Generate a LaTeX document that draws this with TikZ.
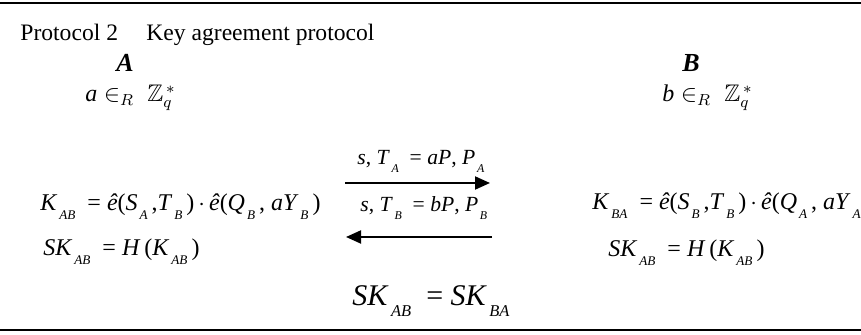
\documentclass[tikz,border=0pt]{standalone}
\usepackage{amsmath, amssymb}
\usepackage{fontspec}
\setmainfont{Liberation Serif}
\usepackage{tikz}
\usetikzlibrary{arrows.meta, positioning}
\newcommand{\iv}[1]{\textit{#1}}
\newcommand{\isub}[1]{\kern0.08em\raisebox{-0.34em}{\scalebox{0.55}{\textit{#1}}}}
\tikzset{
  ttl/.style={font=\fontsize{11.8}{13}\selectfont, inner sep=0pt, anchor=base west},
  party/.style={font=\fontsize{13}{14}\selectfont\bfseries\itshape, inner sep=0pt, anchor=base},
  eqn/.style={font=\fontsize{12}{13}\selectfont, inner sep=0pt, anchor=base west},
  msg/.style={font=\fontsize{10.8}{12}\selectfont, inner sep=0pt, anchor=base west},
  bigeqn/.style={font=\fontsize{15}{17}\selectfont, inner sep=0pt, anchor=base west},
  msgarr/.style={-{Triangle[length=7.5pt,width=6.5pt]}, line width=1pt},
  rulel/.style={line width=1.1pt},
}

\begin{document}
\begin{tikzpicture}[x=0.5pt, y=-0.5pt]

  \useasboundingbox (0,0) rectangle (861,335);

  %% frame rules
  \coordinate (tl) at (0,3);
  \coordinate (tr) at (861,3);
  \coordinate (bl) at (0,330);
  \coordinate (br) at (861,330);
  \draw[rulel] (tl) -- (tr);
  \draw[rulel] (bl) -- (br);

  %% caption
  \node[ttl] (cap) at (20,41) {Protocol 2\hspace{1.2em}Key agreement protocol};

  %% parties
  \node[party] (pa) at (125,72) {A};
  \node[party] (pb) at (691,72) {B};
  \node[eqn] (ra) at (85,102) {\iv{a}$\;\in_{R}\;\mathbb{Z}_{q}^{\,*}$};
  \node[eqn] (rb) at (662,102) {\iv{b}$\;\in_{R}\;\mathbb{Z}_{q}^{\,*}$};

  %% messages
  \coordinate (m1s) at (345,183);
  \coordinate (m1e) at (490,183);
  \coordinate (m2s) at (492,237);
  \coordinate (m2e) at (346,237);
  \draw[msgarr] (m1s) -- (m1e);
  \draw[msgarr] (m2s) -- (m2e);
  \node[msg] (l1) at (357,165) {\iv{s}, \iv{T}\isub{A} \ = \iv{aP}, \iv{P}\isub{A}};
  \node[msg] (l2) at (360,212) {\iv{s}, \iv{T}\isub{B} \ = \iv{bP}, \iv{P}\isub{B}};

  %% key computation
  \node[eqn] (ka) at (40,211)
    {\iv{K}\isub{AB} \ = \iv{ê}(\iv{S}\isub{A}\,,\iv{T}\isub{B}\,)$\,\cdot\,$\iv{ê}(\iv{Q}\isub{B}\,, \iv{aY}\isub{B}\,)};
  \node[eqn] (ska) at (43,256) {\iv{SK}\isub{AB} \ = \iv{H}\,(\iv{K}\isub{AB}\,)};
  \node[eqn] (kb) at (592,210)
    {\iv{K}\isub{BA} \ = \iv{ê}(\iv{S}\isub{B}\,,\iv{T}\isub{B}\,)$\,\cdot\,$\iv{ê}(\iv{Q}\isub{A}\,, \iv{aY}\isub{A}\,)};
  \node[eqn] (skb) at (608,257) {\iv{SK}\isub{AB} \ = \iv{H}\,(\iv{K}\isub{AB}\,)};

  %% session key
  \node[bigeqn] (sk) at (352,306) {\iv{SK}\isub{AB} \ = \iv{SK}\isub{BA}};

\end{tikzpicture}
\end{document}
